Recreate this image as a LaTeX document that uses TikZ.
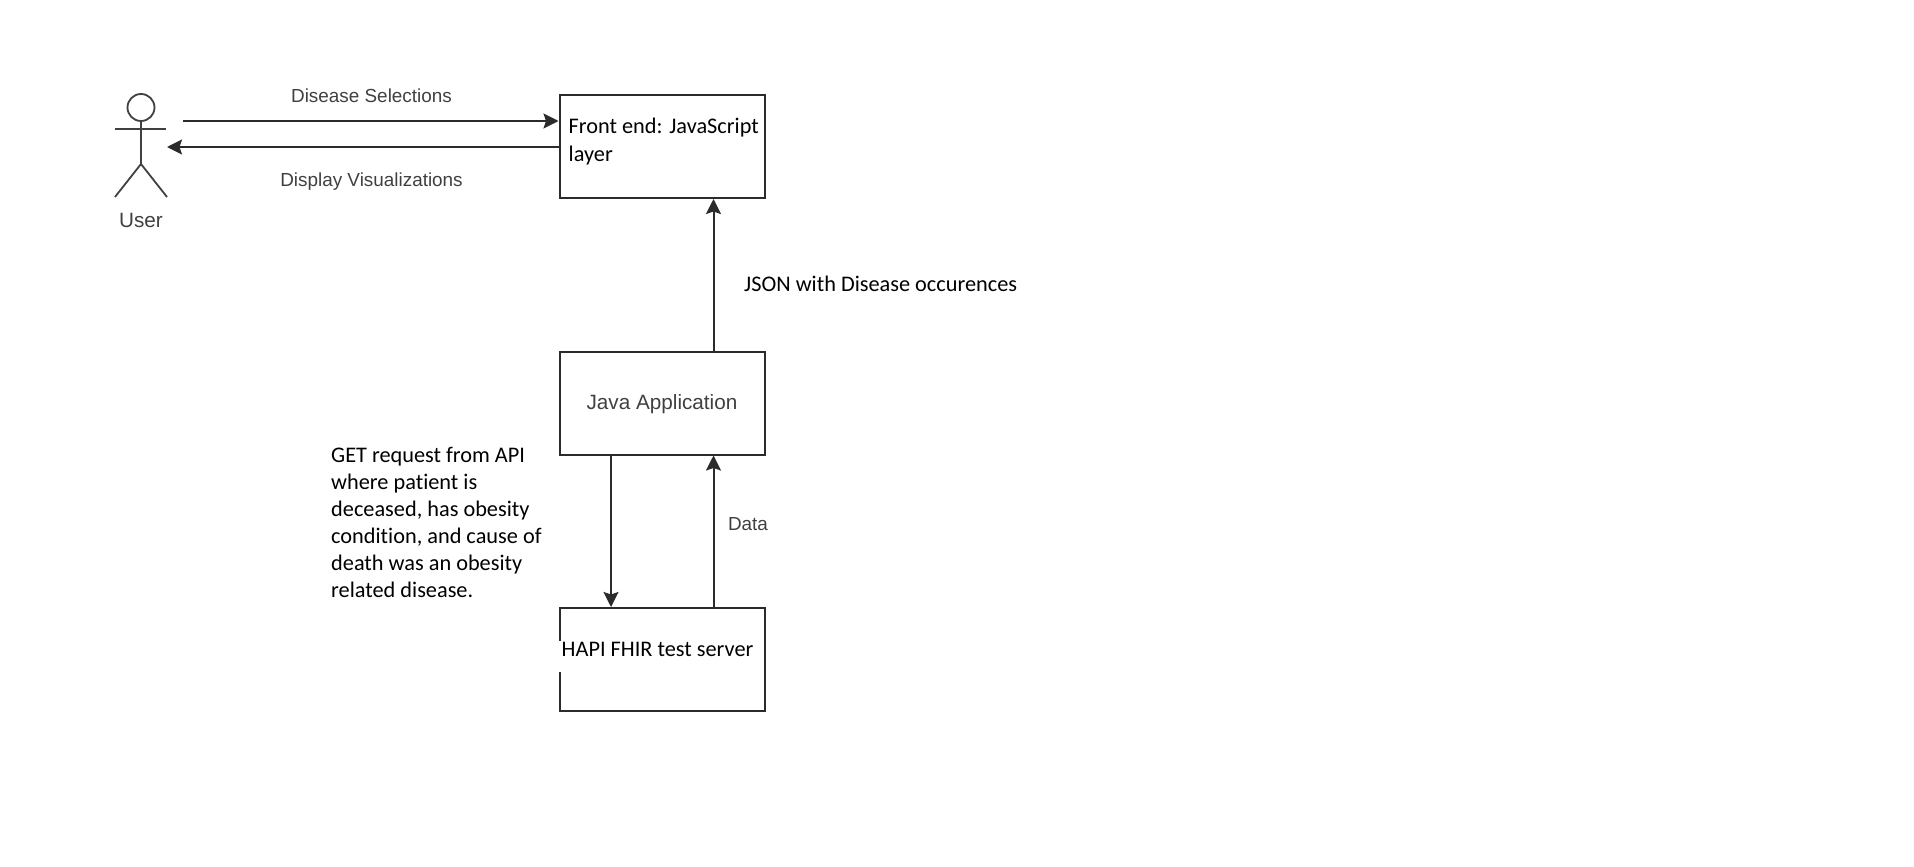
\documentclass[tikz,border=0pt]{standalone}
\usepackage{fontspec}
\setmainfont[Ligatures=NoCommon]{Carlito}
\newfontfamily\drawiofont{Liberation Sans}
\usetikzlibrary{arrows.meta}
\definecolor{linegray}{HTML}{2B2B2B}
\definecolor{labelgray}{HTML}{404040}

\begin{document}
\begin{tikzpicture}[x=1pt, y=-1pt]
  \tikzset{block/.style={draw=linegray, line width=2pt, minimum width=205pt, minimum height=103pt, inner sep=0pt}}
  \tikzset{flow/.style={draw=linegray, line width=2pt, -{Stealth[length=15pt, width=15pt, inset=2.5pt]}}}
  \tikzset{limb/.style={draw=labelgray, line width=1.8pt}}
  \tikzset{gray label/.style={font=\drawiofont\fontsize{18.9}{24}\selectfont, text=labelgray, inner sep=0pt}}
  \tikzset{big gray label/.style={font=\drawiofont\fontsize{20.7}{24}\selectfont, text=labelgray, inner sep=0pt}}
  \tikzset{note/.style={font=\fontsize{22.3}{27}\selectfont, text=black, inner sep=0pt, align=left}}
  \useasboundingbox (0, 0) rectangle (1914, 867);
  \node[block] (frontend) at (662, 146.5) {};
  \node[block, big gray label, text height=17pt] (java) at (662, 403) {Java Application};
  \node[block] (hapi) at (662, 659.5) {};
  % white patch that breaks the box edge beside the server text
  \fill[white] (557.5, 641) rectangle (561, 672);
  \node[note, anchor=west] (frontendtext) at (568.5, 128) {Front end: JavaScript};
  \node[note, anchor=west] (layertext) at (568.5, 156) {layer};
  \node[note, anchor=west] (hapitext) at (561.5, 649) {HAPI FHIR test server};
  \node[note, anchor=west] (jsontext) at (744, 284) {JSON with Disease occurences};
  \node[note, anchor=north west] (gettext) at (331, 447.5) {GET request from API\\where patient is\\deceased, has obesity\\condition, and cause of\\death was an obesity\\related disease.};
  \node[gray label] (selections) at (371.5, 96) {Disease Selections};
  \node[gray label] (visualizations) at (371.5, 182) {Display Visualizations};
  \node[gray label] (datatext) at (748, 524) {Data};
  \node[big gray label] (usertext) at (141, 220) {User};
  % stick figure
  \node[circle, limb, minimum size=27pt, inner sep=0pt] (head) at (141, 107.5) {};
  \coordinate (hip) at (141, 164);
  \draw[limb] (head) -- (hip);
  \coordinate (armleft) at (114.5, 129);
  \coordinate (armright) at (166, 129);
  \draw[limb] (armleft) -- (armright);
  \coordinate (legleft) at (115, 197);
  \coordinate (legright) at (167, 197);
  \draw[limb] (legleft) -- (hip) -- (legright);
  % connectors
  \coordinate (selectstart) at (183, 121);
  \coordinate (displayend) at (167, 147);
  \draw[flow] (selectstart) -- (selectstart -| frontend.west);
  \draw[flow] (displayend -| frontend.west) -- (displayend);
  \coordinate (upperx) at (713.5, 300);
  \coordinate (lowerx) at (611, 500);
  \draw[flow] (upperx |- java.north) -- (upperx |- frontend.south);
  \draw[flow] (lowerx |- java.south) -- (lowerx |- hapi.north);
  \draw[flow] (upperx |- hapi.north) -- (upperx |- java.south);
\end{tikzpicture}
\end{document}
